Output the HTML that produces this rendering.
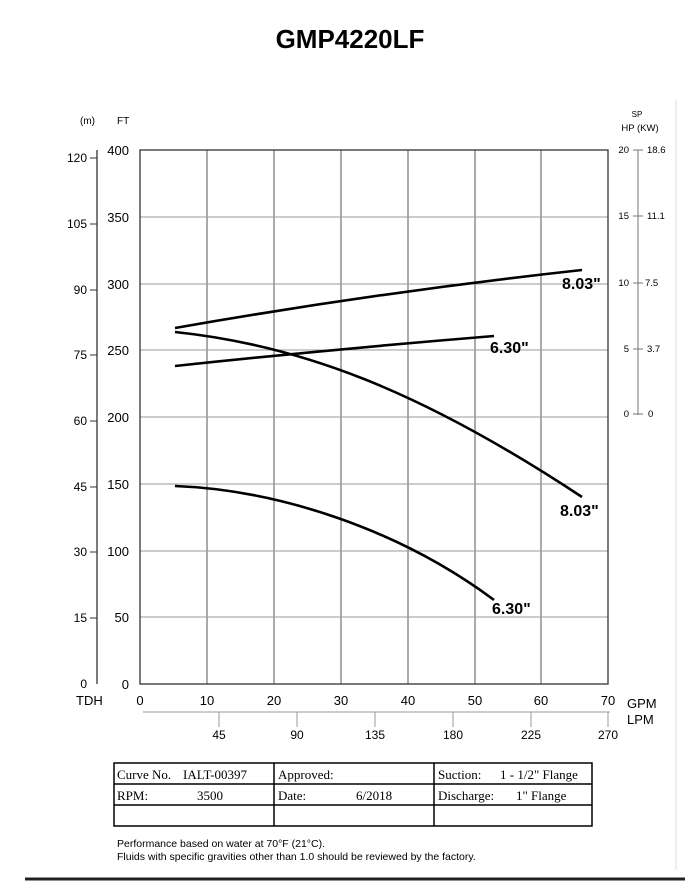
<!DOCTYPE html>
<html><head><meta charset="utf-8"><style>
body{margin:0;background:#fff;}
svg{display:block;font-family:"Liberation Sans",sans-serif;}
.t{font-family:"Liberation Serif",serif;font-size:13px;}
</style></head><body>
<svg width="685" height="893" viewBox="0 0 685 893">
<text x="350" y="48" text-anchor="middle" font-size="26" font-weight="bold">GMP4220LF</text>
<text x="80" y="124" font-size="10">(m)</text>
<text x="117" y="124" font-size="10">FT</text>
<text x="637" y="117" font-size="8" text-anchor="middle">SP</text>
<text x="640" y="131" font-size="9.5" text-anchor="middle">HP (KW)</text>
<g stroke="#555" stroke-width="1">
<line x1="207" y1="150" x2="207" y2="684"/><line x1="274" y1="150" x2="274" y2="684"/>
<line x1="341" y1="150" x2="341" y2="684"/><line x1="408" y1="150" x2="408" y2="684"/>
<line x1="475" y1="150" x2="475" y2="684"/><line x1="541" y1="150" x2="541" y2="684"/>
</g>
<g stroke="#999" stroke-width="1">
<line x1="140" y1="217" x2="608" y2="217"/><line x1="140" y1="284" x2="608" y2="284"/>
<line x1="140" y1="350" x2="608" y2="350"/><line x1="140" y1="417" x2="608" y2="417"/>
<line x1="140" y1="484" x2="608" y2="484"/><line x1="140" y1="551" x2="608" y2="551"/>
<line x1="140" y1="617" x2="608" y2="617"/>
</g>
<rect x="140" y="150" width="468" height="534" fill="none" stroke="#333" stroke-width="1.3"/>
<g stroke="#555" stroke-width="1" id="mt"></g>
<line x1="97" y1="150" x2="97" y2="684" stroke="#333" stroke-width="1.3"/>
<g stroke="#333"><line x1="90" y1="158" x2="97" y2="158"/><line x1="90" y1="224" x2="97" y2="224"/><line x1="90" y1="290" x2="97" y2="290"/><line x1="90" y1="355" x2="97" y2="355"/><line x1="90" y1="421" x2="97" y2="421"/><line x1="90" y1="487" x2="97" y2="487"/><line x1="90" y1="552" x2="97" y2="552"/><line x1="90" y1="618" x2="97" y2="618"/></g>
<g font-size="12" text-anchor="end">
<text x="87" y="162">120</text><text x="87" y="228">105</text><text x="87" y="294">90</text><text x="87" y="359">75</text>
<text x="87" y="425">60</text><text x="87" y="491">45</text><text x="87" y="556">30</text><text x="87" y="622">15</text><text x="87" y="688">0</text>
</g>
<g font-size="13" text-anchor="end">
<text x="129" y="155">400</text><text x="129" y="222">350</text><text x="129" y="289">300</text><text x="129" y="355">250</text>
<text x="129" y="422">200</text><text x="129" y="489">150</text><text x="129" y="556">100</text><text x="129" y="622">50</text><text x="129" y="689">0</text>
</g>
<g font-size="13" text-anchor="middle">
<text x="140" y="705">0</text><text x="207" y="705">10</text><text x="274" y="705">20</text><text x="341" y="705">30</text>
<text x="408" y="705">40</text><text x="475" y="705">50</text><text x="541" y="705">60</text><text x="608" y="705">70</text>
</g>
<text x="76" y="705" font-size="13">TDH</text>
<text x="627" y="708" font-size="13">GPM</text>
<text x="627" y="724" font-size="13">LPM</text>
<line x1="143" y1="712" x2="610" y2="712" stroke="#999"/>
<g stroke="#999"><line x1="219" y1="712" x2="219" y2="727"/><line x1="297" y1="712" x2="297" y2="727"/><line x1="375" y1="712" x2="375" y2="727"/><line x1="453" y1="712" x2="453" y2="727"/><line x1="531" y1="712" x2="531" y2="727"/><line x1="608" y1="712" x2="608" y2="727"/></g>
<g font-size="12" text-anchor="middle">
<text x="219" y="739">45</text><text x="297" y="739">90</text><text x="375" y="739">135</text><text x="453" y="739">180</text><text x="531" y="739">225</text><text x="608" y="739">270</text>
</g>
<line x1="638" y1="150" x2="638" y2="415" stroke="#777"/>
<g stroke="#777"><line x1="633" y1="150" x2="643" y2="150"/><line x1="633" y1="216" x2="643" y2="216"/><line x1="633" y1="283" x2="643" y2="283"/><line x1="633" y1="349" x2="643" y2="349"/><line x1="633" y1="414" x2="643" y2="414"/></g>
<g font-size="9.5"><g text-anchor="end"><text x="629" y="153">20</text><text x="629" y="219">15</text><text x="629" y="286">10</text><text x="629" y="352">5</text><text x="629" y="417">0</text></g>
<text x="647" y="153">18.6</text><text x="647" y="219">11.1</text><text x="645" y="286">7.5</text><text x="647" y="352">3.7</text><text x="648" y="417">0</text></g>
<line x1="676" y1="100" x2="676" y2="870" stroke="#ddd"/>
<g fill="none" stroke="#000" stroke-width="2.6">
<path d="M175,328 Q380,292 582,270"/>
<path d="M175,366 Q335,349 494,336"/>
<path d="M175,332 C300,345 420,390 582,497"/>
<path d="M175,486 C280,490 400,530 494,600"/>
</g>
<g font-size="16" font-weight="bold">
<text x="562" y="289">8.03"</text><text x="490" y="353">6.30"</text><text x="560" y="516">8.03"</text><text x="492" y="614">6.30"</text>
</g>
<g fill="none" stroke="#000" stroke-width="1.5">
<rect x="114" y="763" width="478" height="63"/>
<line x1="114" y1="784" x2="592" y2="784"/><line x1="114" y1="805" x2="592" y2="805"/>
<line x1="274" y1="763" x2="274" y2="826"/><line x1="434" y1="763" x2="434" y2="826"/>
</g>
<text class="t" x="117" y="779">Curve No.</text><text class="t" x="183" y="779">IALT-00397</text>
<text class="t" x="278" y="779">Approved:</text>
<text class="t" x="438" y="779">Suction:</text><text class="t" x="500" y="779">1 - 1/2" Flange</text>
<text class="t" x="117" y="800">RPM:</text><text class="t" x="197" y="800">3500</text>
<text class="t" x="278" y="800">Date:</text><text class="t" x="356" y="800">6/2018</text>
<text class="t" x="438" y="800">Discharge:</text><text class="t" x="516" y="800">1" Flange</text>
<text x="117" y="847" font-size="10.5">Performance based on water at 70°F (21°C).</text>
<text x="117" y="860" font-size="10.5">Fluids with specific gravities other than 1.0 should be reviewed by the factory.</text>
<line x1="25" y1="879" x2="685" y2="879" stroke="#222" stroke-width="3"/>
<script>
var g=document.getElementById('mt'),s='';
for(var i=1;i<40;i++){if(i%5)s+='<line x1="140" y1="'+(684-i*13.35)+'" x2="146" y2="'+(684-i*13.35)+'"/>';}
for(var j=1;j<35;j++){if(j%5){var x=140+j*13.37;s+='<line x1="'+x+'" y1="684" x2="'+x+'" y2="679"/>';}}
g.innerHTML=s;
</script>
</svg>
</body></html>
